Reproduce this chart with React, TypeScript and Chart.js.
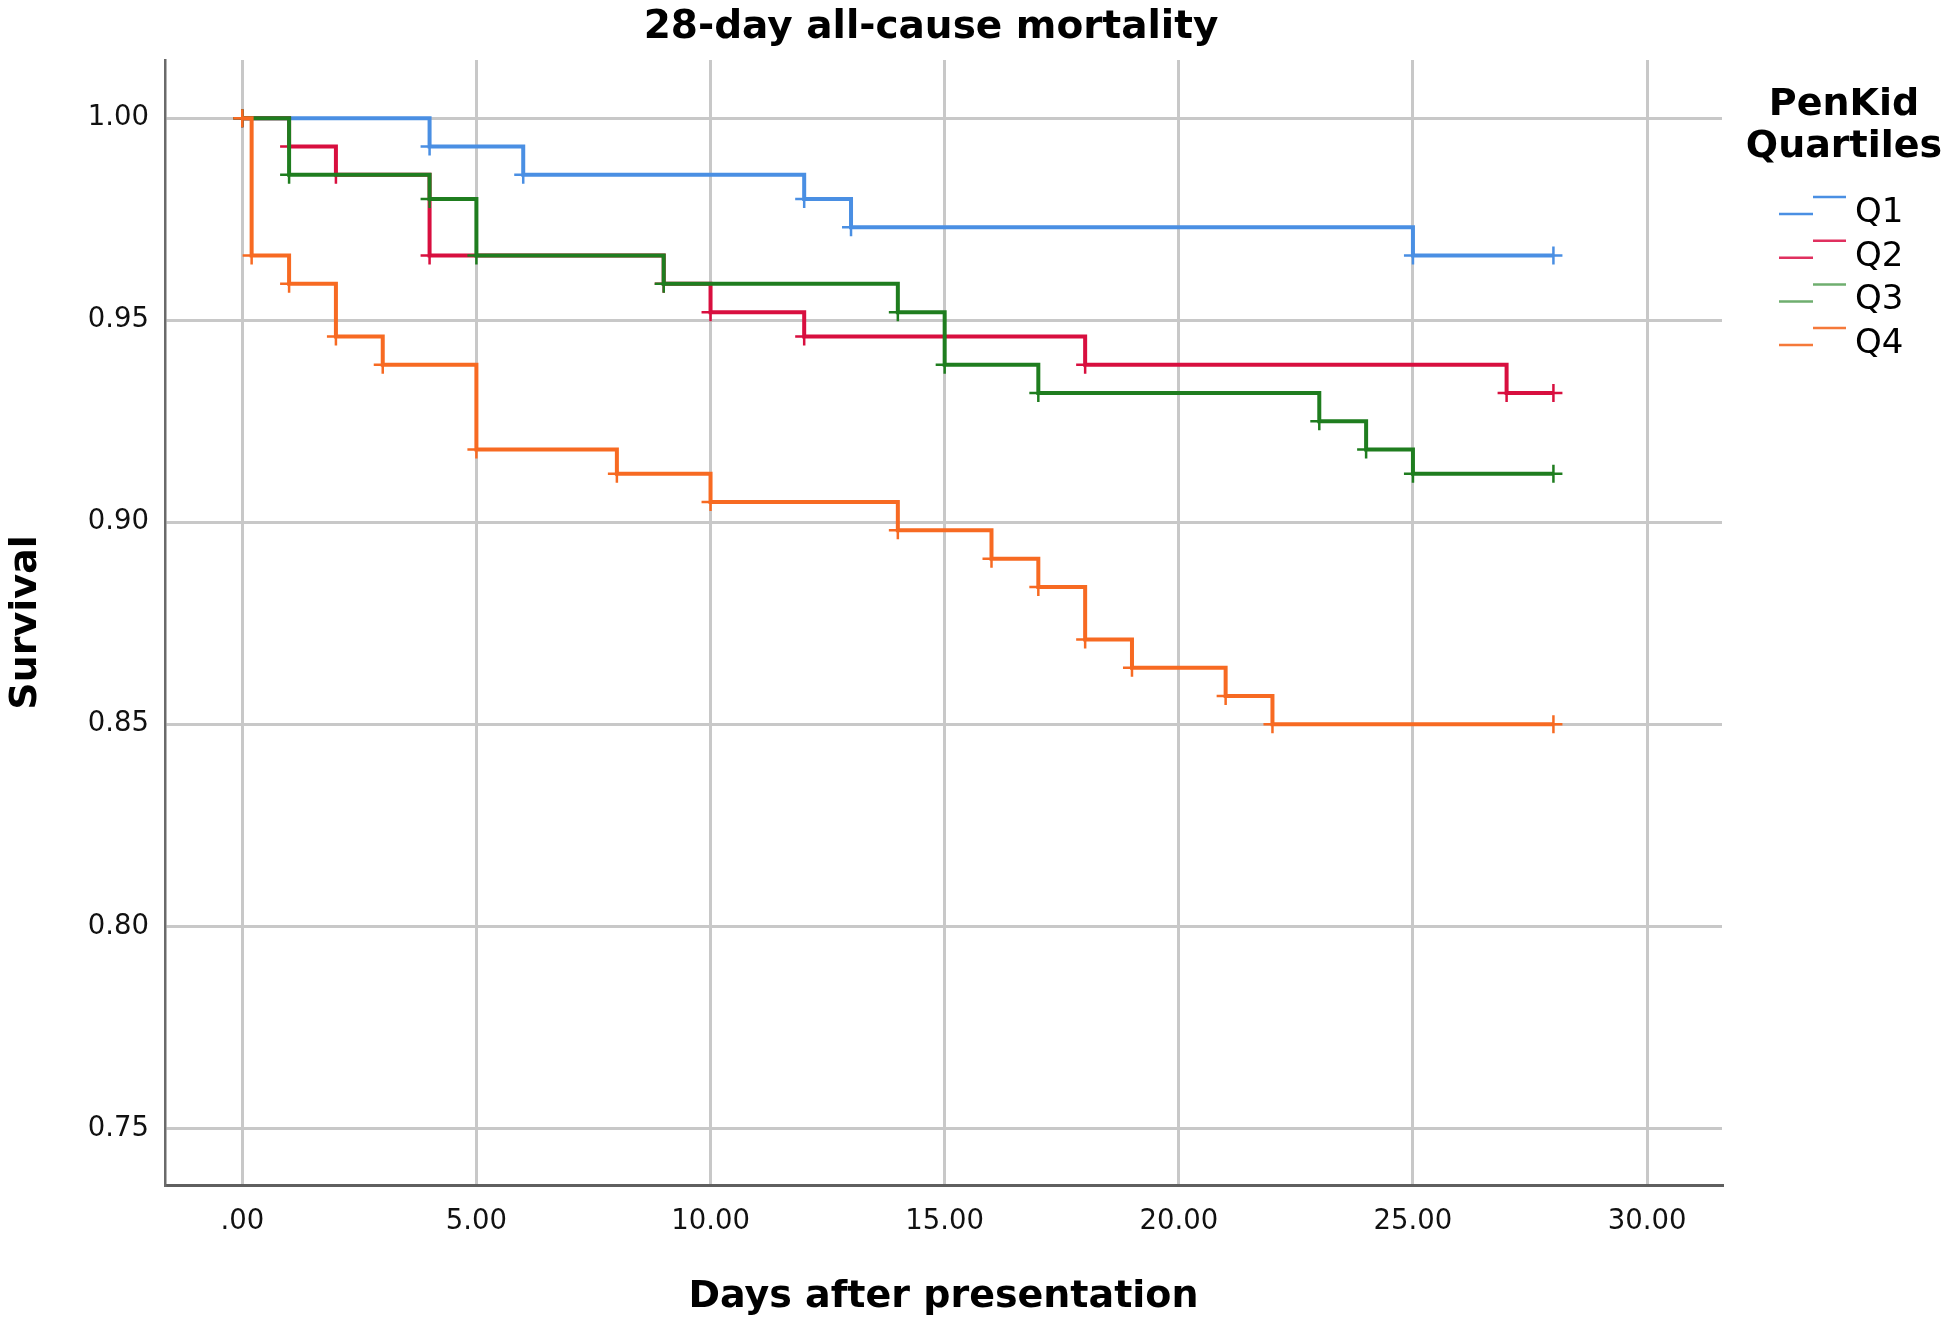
import React, { useEffect, useRef } from "react";
import { Chart, registerables } from "chart.js";

Chart.register(...registerables);

const chartTitle = "28-day all-cause mortality";
const xAxisTitle = "Days after presentation";
const yAxisTitle = "Survival";
const legendTitle = ["PenKid", "Quartiles"];
const seriesNames = ["Q1", "Q2", "Q3", "Q4"];

const xTicks = [0, 5, 10, 15, 20, 25, 30];
const xTickLabels = [".00", "5.00", "10.00", "15.00", "20.00", "25.00", "30.00"];
const yTicks = [0.75, 0.8, 0.85, 0.9, 0.95, 1.0];
const yTickLabels = ["0.75", "0.80", "0.85", "0.90", "0.95", "1.00"];

const q1Days = [0, 4, 6, 12, 13, 25, 28];
const q1Surv = [1.0, 0.993, 0.986, 0.98, 0.973, 0.966, 0.966];

const q2Days = [0, 1, 2, 4, 9, 10, 12, 18, 27, 28];
const q2Surv = [1.0, 0.993, 0.986, 0.966, 0.959, 0.952, 0.946, 0.939, 0.932, 0.932];

const q3Days = [0, 1, 4, 5, 9, 14, 15, 17, 23, 24, 25, 28];
const q3Surv = [1.0, 0.986, 0.98, 0.966, 0.959, 0.952, 0.939, 0.932, 0.925, 0.918, 0.912, 0.912];

const q4Days = [0, 0.2, 1, 2, 3, 5, 8, 10, 14, 16, 17, 18, 19, 21, 22, 28];
const q4Surv = [1.0, 0.966, 0.959, 0.946, 0.939, 0.918, 0.912, 0.905, 0.898, 0.891, 0.884, 0.871, 0.864, 0.857, 0.85, 0.85];

const lineColors = ["#4a8fe3", "#d80f3f", "#1f7d1f", "#f76a22"];
const legendColors = ["#4a8fe3", "#e0305f", "#6fae6f", "#f5793a"];

const seriesDays = [q1Days, q2Days, q3Days, q4Days];
const seriesSurv = [q1Surv, q2Surv, q3Surv, q4Surv];
const drawOrder = [3, 2, 1, 0];

const overlayPlugin = {
  id: "overlay",
  afterDraw(chart: any) {
    const ctx = chart.ctx;
    ctx.save();
    ctx.fillStyle = "#000";
    ctx.textAlign = "center";
    ctx.textBaseline = "alphabetic";
    ctx.font = 'bold 39px "DejaVu Sans"';
    ctx.fillText(chartTitle, 931, 38);
    ctx.font = 'bold 38px "DejaVu Sans"';
    ctx.fillText(legendTitle[0], 1844, 115);
    ctx.fillText(legendTitle[1], 1844, 157);
    ctx.textAlign = "left";
    ctx.font = '34px "DejaVu Sans"';
    seriesNames.forEach((name, i) => {
      const base = 214 + i * 43.7;
      ctx.strokeStyle = legendColors[i];
      ctx.lineWidth = 2.5;
      ctx.beginPath();
      ctx.moveTo(1779, base);
      ctx.lineTo(1813, base);
      ctx.moveTo(1813, base - 17);
      ctx.lineTo(1846, base - 17);
      ctx.stroke();
      ctx.fillText(name, 1855, base + 8);
    });
    ctx.restore();
  },
};

export default function App() {
  const ref = useRef<HTMLCanvasElement | null>(null);

  useEffect(() => {
    document.body.style.margin = "0";
    document.body.style.overflow = "hidden";
    if (!ref.current) return;
    const datasets = seriesNames.map((name, i) => ({
      label: name,
      data: seriesDays[i].map((d, j) => ({ x: d, y: seriesSurv[i][j] })),
      borderColor: lineColors[i],
      backgroundColor: lineColors[i],
      borderWidth: 4,
      stepped: true,
      fill: false,
      tension: 0,
      order: drawOrder[i],
      pointStyle: "cross",
      pointRadius: 9,
      pointHoverRadius: 9,
      pointBorderWidth: 2.5,
      pointBorderColor: lineColors[i],
      pointBackgroundColor: lineColors[i],
    }));

    const chart = new Chart(ref.current, {
      type: "line",
      data: { datasets },
      plugins: [overlayPlugin],
      options: {
        responsive: false,
        animation: false,
        devicePixelRatio: 1,
        layout: { padding: { top: 60, right: 223, left: 0, bottom: 0 } },
        plugins: {
          legend: { display: false },
          tooltip: { enabled: false },
          title: { display: false },
        },
        scales: {
          x: {
            type: "linear",
            min: -1.65,
            max: 31.6,
            afterBuildTicks: (s: any) => {
              s.ticks = xTicks.map((v) => ({ value: v }));
            },
            afterFit: (s: any) => {
              s.height = 138;
            },
            grid: { color: "#c8c8c8", lineWidth: 3, drawTicks: false },
            border: { color: "#5f5f5f", width: 3 },
            ticks: {
              padding: 20,
              color: "#111",
              autoSkip: false,
              maxRotation: 0,
              font: { family: "DejaVu Sans", size: 27.5 },
              callback: (_v: any, i: number) => xTickLabels[i],
            },
            title: {
              display: true,
              text: xAxisTitle,
              color: "#000",
              font: { family: "DejaVu Sans", size: 38, weight: "bold" },
              padding: { top: 0, bottom: 3 },
            },
          },
          y: {
            type: "linear",
            min: 0.736,
            max: 1.0144,
            afterBuildTicks: (s: any) => {
              s.ticks = yTicks.map((v) => ({ value: v }));
            },
            afterFit: (s: any) => {
              s.width = 165;
            },
            grid: { color: "#c8c8c8", lineWidth: 3, drawTicks: false },
            border: { color: "#6a6a6a", width: 2.5 },
            ticks: {
              padding: 16,
              color: "#111",
              autoSkip: false,
              font: { family: "DejaVu Sans", size: 27.5 },
              callback: (_v: any, i: number) => yTickLabels[i],
            },
            title: {
              display: true,
              text: yAxisTitle,
              color: "#000",
              font: { family: "DejaVu Sans", size: 38, weight: "bold" },
              padding: { top: 3, bottom: 0 },
            },
          },
        },
      },
    } as any);
    return () => chart.destroy();
  }, []);

  return <canvas ref={ref} width={1945} height={1323} style={{ display: "block" }} />;
}
